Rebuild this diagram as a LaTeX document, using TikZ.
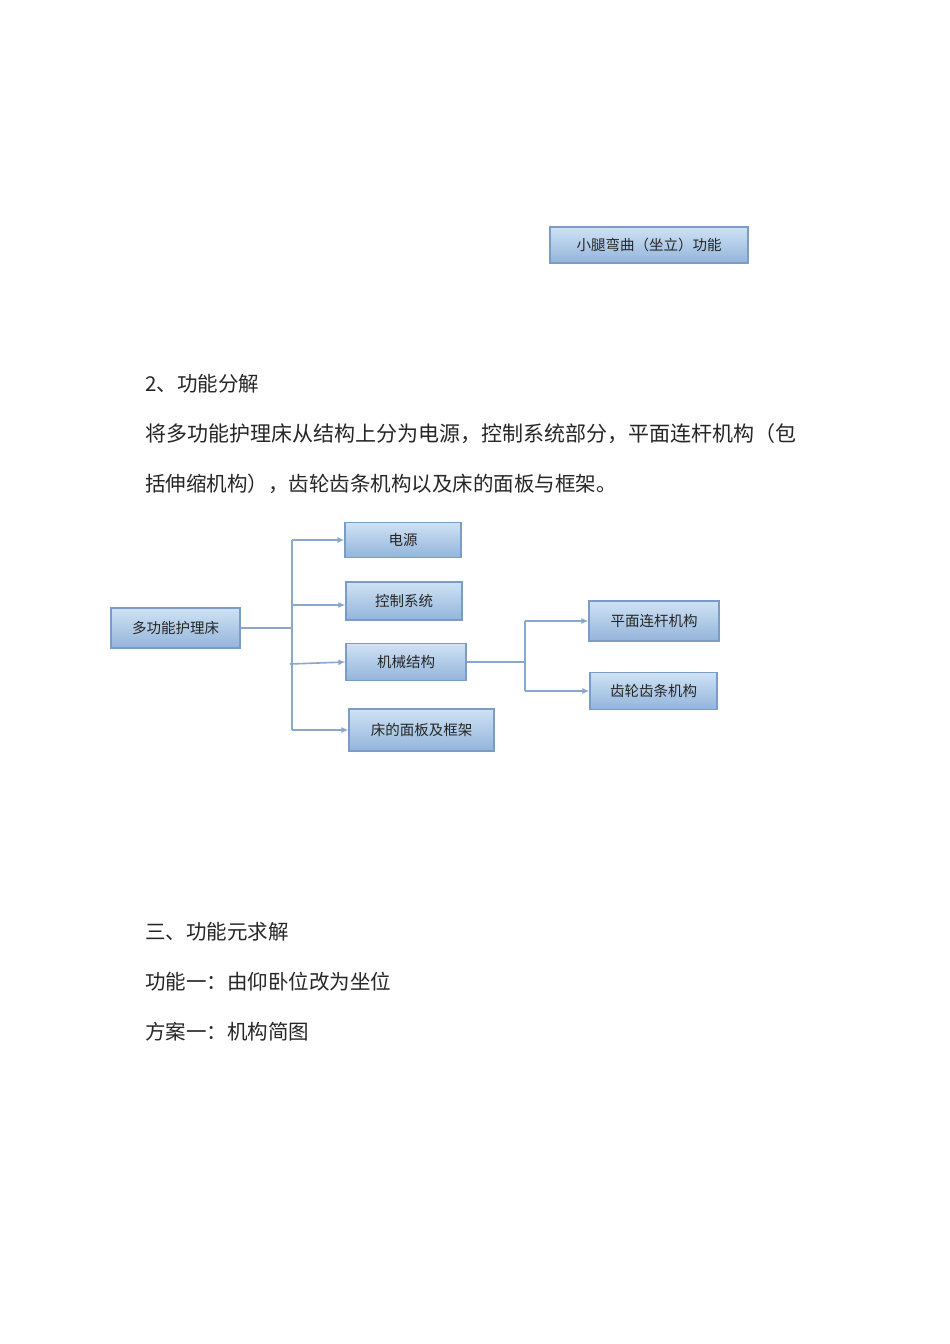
\documentclass[tikz,border=0pt]{standalone}
\usepackage{fontspec}
\setmainfont{Noto Sans CJK SC}
\usetikzlibrary{arrows.meta}
\begin{document}
\begin{tikzpicture}[x=1pt,y=-1pt,
  bx/.style={draw=boxb,line width=1.2pt,top color=boxt,bottom color=boxbot,inner sep=0pt,font=\fontsize{14.5}{16}\selectfont,text=black!85},
  ln/.style={draw=lineb,line width=1.6pt},
  ar/.style={ln,-{Latex[length=7pt,width=6pt]}},
  tx/.style={anchor=west,inner sep=0pt,font=\fontsize{20.5}{22}\selectfont,text=black!85}]
\definecolor{boxb}{HTML}{7B9CC4}
\definecolor{boxt}{HTML}{CFE2F5}
\definecolor{boxbot}{HTML}{93B4DA}
\definecolor{lineb}{HTML}{8AA8CC}
\useasboundingbox[fill=white] (0,0) rectangle (950,1344);
\node[bx,minimum width=198,minimum height=36] (leg) at (649,245) {小腿弯曲（坐立）功能};
\node[tx] (t1) at (145,384) {2、功能分解};
\node[tx,font=\fontsize{21}{22}\selectfont] (t2) at (145,434) {将多功能护理床从结构上分为电源，控制系统部分，平面连杆机构（包};
\node[tx] (t3) at (145,484) {括伸缩机构），齿轮齿条机构以及床的面板与框架。};
\node[bx,minimum width=129,minimum height=40] (m) at (175.5,628) {多功能护理床};
\node[bx,minimum width=116,minimum height=35] (p) at (403,540) {电源};
\node[bx,minimum width=116,minimum height=38] (c) at (404,601) {控制系统};
\node[bx,minimum width=120,minimum height=37] (j) at (406,662) {机械结构};
\node[bx,minimum width=145,minimum height=42] (f) at (421.5,730) {床的面板及框架};
\node[bx,minimum width=130,minimum height=40] (l) at (654,621) {平面连杆机构};
\node[bx,minimum width=127,minimum height=37] (g) at (653.5,691) {齿轮齿条机构};
\coordinate (b1) at (292,628);
\coordinate (b2) at (525,662);
\draw[ln] (m.east) -- (b1);
\draw[ln] (292,540) -- (292,730);
\draw[ar] (292,540) -- (p.west);
\draw[ar] (292,605) -- (c.west|-292,605);
\draw[ar] (290,664) -- (j.west);
\draw[ar] (292,730) -- (f.west);
\draw[ln] (j.east) -- (b2);
\draw[ln] (525,621) -- (525,691);
\draw[ar] (525,621) -- (l.west);
\draw[ar] (525,691) -- (g.west);
\node[tx] (t4) at (145,932) {三、功能元求解};
\node[tx] (t5) at (145,982) {功能一：由仰卧位改为坐位};
\node[tx] (t6) at (145,1032) {方案一：机构简图};
\end{tikzpicture}
\end{document}
